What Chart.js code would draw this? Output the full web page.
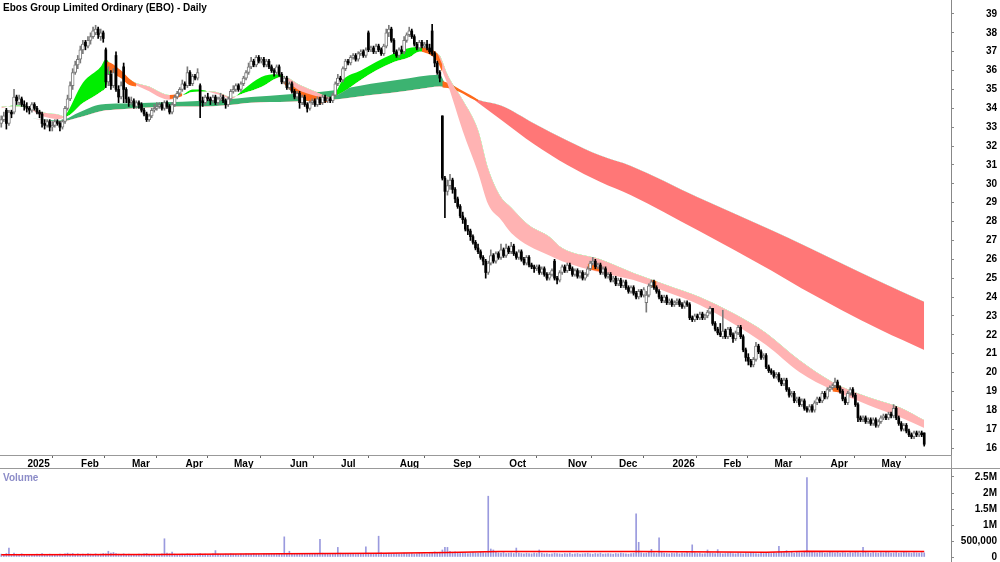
<!DOCTYPE html>
<html>
<head>
<meta charset="utf-8">
<script src="https://cdn.jsdelivr.net/npm/chart.js@4/dist/chart.umd.min.js"></script>
<style>
  html, body { margin: 0; padding: 0; background: #fff; }
  #wrap { position: relative; width: 1000px; height: 562px; overflow: hidden; }
  #priceBox { position: absolute; left: 0; top: 0; width: 1000px; height: 468px; }
  #volBox { position: absolute; left: 0; top: 468px; width: 1000px; height: 94px; }
  .lbl { position: absolute; font: bold 10px 'Liberation Sans', Arial, sans-serif; white-space: nowrap; }
  #title { left: 3px; top: 2px; color: #000; }
  #volTitle { left: 3px; top: 472px; color: #8c8cc8; }
</style>
</head>
<body>
<div id="wrap">
  <div id="priceBox"><canvas id="price"></canvas></div>
  <div id="volBox"><canvas id="vol"></canvas></div>
  <div id="title" class="lbl">Ebos Group Limited Ordinary (EBO) - Daily</div>
  <div id="volTitle" class="lbl">Volume</div>
</div>
<script>
// trading calendar
const firstDay = '2024-12-16';
const slotCount = 373;
const holidays = ['2024-12-25','2024-12-26','2025-01-01','2025-01-27','2025-04-18','2025-04-21','2025-04-25',
  '2025-06-09','2025-12-25','2025-12-26','2026-01-01','2026-01-26','2026-04-03','2026-04-06'];
const monthNames = ['Jan','Feb','Mar','Apr','May','Jun','Jul','Aug','Sep','Oct','Nov','Dec'];
const priceTicks = [16,17,18,19,20,21,22,23,24,25,26,27,28,29,30,31,32,33,34,35,36,37,38,39];
const volTicks = [0, 500000, 1000000, 1500000, 2000000, 2500000];

// daily bars
const opens = [
  33.2,33.4,33.9,33.2,33.8,33.8,34.6,34.3,34.5,34.2,
  34.1,34.0,33.9,34.2,34.0,33.8,33.7,33.2,33.1,33.3,
  33.0,33.1,33.3,33.2,33.0,33.3,34.0,34.5,35.2,35.9,
  36.3,36.6,37.1,37.5,37.3,37.6,37.8,38.0,38.2,37.8,
  38.0,37.1,35.4,35.8,35.2,36.8,35.0,34.6,36.2,35.0,
  34.5,34.3,34.4,34.1,34.3,34.2,33.9,33.7,33.4,33.6,
  33.9,34.0,34.1,34.2,34.0,34.3,34.1,33.8,34.2,34.6,
  34.8,35.0,35.3,35.2,35.9,35.3,35.7,35.6,35.2,34.4,
  34.3,34.6,34.5,34.4,34.6,34.3,34.5,34.6,34.4,34.2,
  34.5,34.9,35.0,35.2,35.0,35.3,35.6,35.9,36.2,36.5,
  36.3,36.7,36.5,36.6,36.3,36.5,36.2,36.0,35.9,36.2,
  35.8,35.4,35.6,35.1,35.3,34.9,34.6,34.8,34.3,34.6,
  34.2,34.0,34.3,34.4,34.2,34.5,34.3,34.6,34.4,34.5,
  34.4,34.7,35.3,35.6,35.5,36.1,36.5,36.4,36.7,36.8,
  36.6,36.9,37.0,36.8,38.0,37.1,37.2,37.0,37.3,37.1,
  36.9,37.3,38.0,38.2,37.6,37.0,36.8,37.1,37.0,37.6,
  37.9,38.1,37.8,37.4,37.2,37.5,37.3,37.4,37.2,38.1,
  36.9,36.4,35.9,33.6,30.3,29.6,29.9,30.2,29.7,29.2,
  28.8,28.3,28.1,27.6,27.5,27.2,26.9,26.6,26.4,26.1,
  25.9,25.3,25.8,26.2,25.9,26.3,26.1,26.5,26.2,26.6,
  26.4,26.7,26.3,26.1,26.4,26.0,25.8,26.1,25.7,25.6,
  25.5,25.6,25.3,25.5,25.2,25.0,25.2,25.9,25.0,24.9,
  25.3,25.6,25.4,25.7,25.5,25.2,25.4,25.1,25.3,25.0,
  25.2,25.5,25.8,25.9,25.6,25.7,25.3,25.5,25.1,25.2,
  24.9,25.0,24.7,24.9,24.6,24.8,24.5,24.3,24.5,24.2,
  24.0,24.3,24.1,23.7,24.1,24.6,24.8,24.5,24.3,24.0,
  23.8,24.0,23.7,23.8,23.6,23.7,23.8,23.6,23.5,23.7,
  23.6,22.9,22.8,23.0,22.9,23.1,22.9,23.0,23.2,23.4,
  22.6,22.3,22.1,21.9,22.2,21.9,22.3,22.0,21.8,22.1,
  22.4,21.9,21.2,20.8,20.6,20.4,20.7,21.4,21.1,20.8,
  20.9,20.3,20.1,20.0,19.8,19.9,19.6,19.4,19.6,19.1,
  18.8,18.9,18.5,18.6,18.3,18.5,18.1,18.0,18.2,18.0,
  18.4,18.6,18.5,18.9,18.7,19.1,19.2,19.3,19.5,19.2,
  19.0,18.6,18.4,18.9,19.1,18.8,18.3,17.6,17.5,17.6,
  17.4,17.5,17.3,17.5,17.2,17.4,17.6,17.7,17.6,17.8,
  17.7,18.1,17.6,17.3,17.0,17.2,16.9,16.7,16.6,16.8,
  16.7,16.8,16.8
];
const highs = [
  33.6,33.8,34.0,33.9,33.9,35.0,34.7,34.7,34.6,34.4,
  34.3,34.1,34.3,34.3,34.1,33.9,33.8,33.4,33.4,33.4,
  33.3,33.4,33.4,33.3,33.4,34.1,34.7,35.4,36.1,36.5,
  36.8,37.3,37.6,37.6,37.8,38.0,38.3,38.4,38.3,38.2,
  38.1,37.2,36.2,36.0,36.1,37.0,35.2,35.4,36.4,35.1,
  34.6,34.6,34.5,34.4,34.4,34.3,34.0,33.8,33.7,34.0,
  34.2,34.3,34.3,34.3,34.4,34.4,34.2,34.3,34.7,34.9,
  35.1,35.5,35.4,36.2,36.0,35.8,35.8,36.1,35.3,34.6,
  34.7,34.8,34.6,34.7,34.7,34.6,34.8,34.7,34.5,34.6,
  35.0,35.2,35.3,35.3,35.4,35.7,36.0,36.4,36.7,36.6,
  36.8,36.8,36.7,36.7,36.6,36.6,36.3,36.1,36.3,36.3,
  35.9,35.7,35.7,35.4,35.4,35.0,34.9,34.9,34.7,34.7,
  34.3,34.4,34.5,34.5,34.6,34.6,34.7,34.7,34.6,34.6,
  34.8,35.4,35.8,35.7,36.2,36.6,36.6,36.8,36.9,36.9,
  37.0,37.1,37.1,37.2,38.1,37.3,37.3,37.4,37.4,37.2,
  37.4,38.2,38.4,38.3,37.7,37.1,37.2,37.3,37.8,38.0,
  38.3,38.2,37.9,37.5,37.6,37.6,37.5,37.6,37.4,38.45,
  37.0,36.5,36.0,33.6,30.4,30.2,30.5,30.3,29.8,29.3,
  28.9,28.5,28.2,27.8,27.6,27.3,27.0,26.8,26.5,26.2,
  26.0,25.9,26.5,26.3,26.4,26.4,26.8,26.6,26.8,26.7,
  26.9,26.8,26.4,26.5,26.5,26.1,26.2,26.2,25.8,25.7,
  25.7,25.7,25.6,25.6,25.3,25.3,25.5,26.0,25.1,25.4,
  25.7,25.7,25.8,25.8,25.6,25.5,25.5,25.4,25.4,25.3,
  25.6,25.9,26.1,26.0,25.8,25.8,25.6,25.6,25.3,25.3,
  25.1,25.1,25.0,25.0,24.9,24.9,24.6,24.6,24.6,24.3,
  24.4,24.4,24.5,24.3,24.7,24.9,24.9,24.6,24.4,24.1,
  24.1,24.1,23.9,23.9,23.8,23.9,23.9,23.7,23.8,23.8,
  23.7,23.0,23.1,23.1,23.2,23.2,23.1,23.3,23.5,23.4,
  22.7,22.4,22.6,23.3,22.3,22.4,22.4,22.1,22.2,22.5,
  22.5,22.0,21.3,21.0,20.7,20.8,21.6,21.5,21.2,21.0,
  21.0,20.4,20.2,20.1,20.0,20.0,19.7,19.7,19.7,19.2,
  19.0,19.0,18.7,18.7,18.6,18.6,18.2,18.3,18.3,18.5,
  18.7,18.7,19.0,19.0,19.2,19.3,19.4,19.7,19.6,19.3,
  19.1,18.7,19.0,19.2,19.2,18.9,18.4,17.7,17.7,17.7,
  17.6,17.6,17.6,17.6,17.5,17.7,17.8,17.8,17.9,17.9,
  18.3,18.2,17.7,17.4,17.3,17.3,17.0,16.8,16.9,16.9,
  16.9,16.9,16.8
];
const lows = [
  33.0,33.3,32.9,33.1,33.5,33.7,34.2,34.2,34.1,33.9,
  33.8,33.7,33.8,33.9,33.7,33.5,33.0,32.9,33.0,32.8,
  32.8,33.0,33.1,32.8,32.9,33.2,33.9,34.4,35.0,35.8,
  36.1,36.4,36.9,37.1,37.2,37.4,37.7,37.9,37.7,37.6,
  37.5,35.1,35.2,35.0,35.1,34.9,34.3,34.5,34.3,34.3,
  34.1,34.2,34.0,34.0,34.0,33.8,33.6,33.3,33.3,33.5,
  33.8,33.9,34.0,33.9,33.9,34.0,33.7,33.7,34.1,34.5,
  34.7,34.9,35.0,35.1,35.2,35.2,35.5,35.5,33.5,34.1,
  34.2,34.4,34.2,34.3,34.2,34.2,34.4,34.3,34.0,34.1,
  34.4,34.8,34.9,34.9,34.9,35.2,35.5,35.8,36.1,36.2,
  36.2,36.4,36.4,36.2,36.2,36.1,35.9,35.7,35.8,35.7,
  35.3,35.3,35.0,35.0,34.8,34.5,34.5,34.0,34.2,34.1,
  33.8,33.9,34.2,34.1,34.1,34.2,34.2,34.3,34.3,34.3,
  34.3,34.6,35.2,35.4,35.4,36.0,36.3,36.3,36.6,36.5,
  36.5,36.8,36.7,36.7,37.0,37.0,36.9,36.9,37.0,36.8,
  36.8,37.2,37.8,37.5,36.9,36.7,36.7,36.9,36.9,37.5,
  37.8,37.7,37.3,37.1,37.1,37.2,37.2,37.1,36.9,36.8,
  36.2,35.8,35.4,30.2,28.2,29.4,29.7,29.5,29.0,28.7,
  28.2,27.9,27.5,27.3,27.0,26.8,26.5,26.3,26.0,25.7,
  25.0,25.2,25.7,25.8,25.8,26.0,26.0,26.1,26.1,26.3,
  26.3,26.2,26.0,26.0,25.9,25.7,25.7,25.6,25.5,25.3,
  25.4,25.2,25.2,25.1,24.9,24.9,25.1,24.9,24.7,24.8,
  25.2,25.3,25.3,25.4,25.1,25.1,25.0,25.0,24.9,24.9,
  25.1,25.4,25.7,25.5,25.5,25.2,25.2,25.0,25.0,24.8,
  24.8,24.6,24.6,24.5,24.5,24.4,24.2,24.2,24.1,23.9,
  23.9,24.0,24.0,23.2,24.0,24.5,24.4,24.2,23.9,23.7,
  23.7,23.6,23.6,23.5,23.5,23.6,23.5,23.4,23.4,23.5,
  22.8,22.7,22.7,22.8,22.8,22.8,22.8,22.9,23.1,22.5,
  22.2,22.0,21.9,21.8,21.8,21.8,21.9,21.6,21.7,22.0,
  21.8,21.1,20.6,20.4,20.3,20.3,20.6,21.0,20.7,20.7,
  20.2,20.0,19.9,19.7,19.7,19.5,19.3,19.3,19.0,18.7,
  18.7,18.4,18.4,18.2,18.2,18.0,17.9,17.9,17.9,17.9,
  18.3,18.4,18.4,18.6,18.6,19.0,19.1,19.2,19.1,18.9,
  18.5,18.3,18.3,18.8,18.7,18.2,17.4,17.4,17.4,17.3,
  17.3,17.2,17.2,17.1,17.1,17.3,17.5,17.5,17.5,17.6,
  17.6,17.5,17.2,16.9,16.9,16.8,16.6,16.5,16.5,16.6,
  16.6,16.6,16.1
];
const closes = [
  33.4,33.6,33.2,33.8,33.7,34.6,34.4,34.5,34.2,34.1,
  34.0,33.9,34.2,34.0,33.8,33.7,33.2,33.1,33.3,33.0,
  33.1,33.3,33.2,33.0,33.3,34.0,34.5,35.2,35.9,36.3,
  36.6,37.1,37.4,37.3,37.6,37.8,38.1,38.2,37.9,38.0,
  37.7,35.4,35.8,35.2,35.9,35.0,34.6,35.2,35.0,34.5,
  34.3,34.4,34.1,34.3,34.2,33.9,33.7,33.4,33.6,33.9,
  34.0,34.1,34.2,34.0,34.3,34.1,33.8,34.2,34.6,34.8,
  35.0,35.3,35.2,35.9,35.3,35.7,35.6,35.9,34.4,34.3,
  34.6,34.5,34.4,34.6,34.3,34.5,34.6,34.4,34.2,34.5,
  34.9,35.0,35.2,35.0,35.3,35.6,35.9,36.2,36.5,36.3,
  36.7,36.5,36.6,36.3,36.5,36.2,36.0,35.9,36.2,35.8,
  35.4,35.6,35.1,35.3,34.9,34.6,34.8,34.3,34.6,34.2,
  34.0,34.3,34.4,34.2,34.5,34.3,34.6,34.4,34.5,34.4,
  34.7,35.3,35.6,35.5,36.1,36.5,36.4,36.7,36.8,36.6,
  36.9,37.0,36.8,37.1,37.1,37.2,37.0,37.3,37.1,36.9,
  37.3,38.0,38.2,37.6,37.0,36.8,37.1,37.0,37.6,37.9,
  38.1,37.8,37.4,37.2,37.5,37.3,37.4,37.2,37.0,36.9,
  36.4,35.9,35.6,30.3,29.6,29.9,30.2,29.7,29.2,28.8,
  28.3,28.1,27.6,27.5,27.2,26.9,26.6,26.4,26.1,25.9,
  25.3,25.8,26.2,25.9,26.3,26.1,26.5,26.2,26.6,26.4,
  26.7,26.3,26.1,26.4,26.0,25.8,26.1,25.7,25.6,25.5,
  25.6,25.3,25.5,25.2,25.0,25.2,25.4,25.0,24.9,25.3,
  25.6,25.4,25.7,25.5,25.2,25.4,25.1,25.3,25.0,25.2,
  25.5,25.8,25.9,25.6,25.7,25.3,25.5,25.1,25.2,24.9,
  25.0,24.7,24.9,24.6,24.8,24.5,24.3,24.5,24.2,24.0,
  24.3,24.1,24.4,24.1,24.6,24.8,24.5,24.3,24.0,23.8,
  24.0,23.7,23.8,23.6,23.7,23.8,23.6,23.5,23.7,23.6,
  22.9,22.8,23.0,22.9,23.1,22.9,23.0,23.2,23.4,22.6,
  22.3,22.1,22.0,22.2,21.9,22.3,22.0,21.8,22.1,22.4,
  21.9,21.2,20.8,20.6,20.4,20.7,21.4,21.1,20.8,20.9,
  20.3,20.1,20.0,19.8,19.9,19.6,19.4,19.6,19.1,18.8,
  18.9,18.5,18.6,18.3,18.5,18.1,18.0,18.2,18.0,18.4,
  18.6,18.5,18.9,18.7,19.1,19.2,19.3,19.5,19.2,19.0,
  18.6,18.4,18.9,19.1,18.8,18.3,17.6,17.5,17.6,17.4,
  17.5,17.3,17.5,17.2,17.4,17.6,17.7,17.6,17.8,17.7,
  18.1,17.6,17.3,17.0,17.2,16.9,16.7,16.6,16.8,16.7,
  16.8,16.7,16.2
];
// volume in thousands
const volumes = [
  90,70,110,280,80,120,90,60,100,70,50,60,80,70,90,60,110,80,70,90,
  80,60,70,90,80,100,120,90,110,80,100,70,90,80,110,90,70,100,80,90,
  110,100,180,120,140,110,90,80,100,70,90,80,60,70,90,80,100,110,80,70,
  90,80,70,100,570,120,100,150,90,80,70,90,80,100,90,80,70,90,110,80,
  90,70,80,100,200,90,80,70,90,80,100,90,80,70,90,80,100,90,80,110,
  90,80,70,100,90,80,110,90,80,100,90,630,120,180,100,90,80,110,90,100,
  80,90,100,110,90,550,120,100,90,80,100,110,300,120,100,90,110,100,90,80,
  100,90,110,320,120,100,90,110,650,130,110,100,120,90,100,110,90,100,120,110,
  100,110,90,100,120,110,100,90,110,140,160,130,150,220,300,300,180,150,160,130,
  140,120,130,110,120,140,130,120,150,140,130,1900,250,220,160,130,120,140,110,120,
  130,110,280,120,110,100,120,110,100,120,110,220,120,100,110,90,100,120,110,100,
  90,110,100,120,90,100,110,90,100,110,120,100,90,110,100,120,90,100,110,100,
  90,110,100,120,110,100,90,110,120,1350,460,130,110,120,150,240,130,110,600,140,
  120,110,100,120,110,130,100,120,110,140,120,380,130,110,120,100,110,220,130,120,
  110,230,120,100,110,120,130,110,100,120,110,100,120,110,130,120,110,100,120,110,
  130,120,110,140,120,330,150,140,200,130,150,120,160,140,130,150,2480,170,150,140,
  130,150,140,120,130,180,140,130,150,120,140,130,120,140,130,150,140,120,300,150,
  130,120,140,130,120,140,130,150,140,120,130,140,120,130,150,140,130,120,140,130,
  120,140,130
];
const volMaIdx = [0, 60, 110, 150, 175, 195, 250, 300, 316, 362];
const volMa = [70, 80, 100, 120, 140, 170, 170, 150, 180, 170];

// moving average bands (sampled)
const shortIdx = [0,5,9,12,17,23,25,32,39,41,43,48,52,58,62,66,71,75,80,82,86,90,95,102,108,111,117,125,129,134,
  141,147,154,160,164,168,172,173,175,177,181,187,191,196,200,207,215,220,235,248,261,274,287,300,313,326,340,353,362];
const shortFast = [34.0,34.15,34.12,33.9,33.55,33.43,33.6,35.35,36.2,36.6,36.3,35.7,35.3,34.9,34.6,34.45,34.7,35.0,34.95,34.85,
  34.7,34.5,35.0,35.66,35.8,35.66,34.7,34.3,34.4,35.5,36.0,36.45,36.9,37.2,37.25,37.05,36.6,36.0,35.3,34.5,
  32.8,30.6,28.9,28.1,27.4,26.7,26.2,25.9,25.3,24.9,24.27,23.58,22.6,21.46,20.03,19.07,18.28,17.6,17.06];
const shortSlow = [34.1,34.1,34.08,33.95,33.76,33.65,33.55,34.28,34.87,35.1,35.9,35.7,35.4,35.15,34.88,34.7,34.7,34.87,34.88,34.9,
  34.8,34.6,34.8,35.13,35.6,35.66,35.25,34.8,34.6,34.87,35.5,36.0,36.45,36.7,37.0,37.0,36.8,36.5,35.8,35.3,
  34.44,32.85,30.8,29.3,28.75,27.8,27.2,26.6,26.0,25.27,24.64,24.0,23.15,22.1,20.66,19.5,18.7,18.12,17.48];
const longIdx = [0,12,23,30,39,47,58,71,79,87,98,113,130,145,160,168,172,174,176,180,184,187,196,209,222,235,247,273,302,314,345,362];
const longFast = [33.4,33.45,33.35,33.75,34.2,34.25,34.3,34.35,34.4,34.45,34.6,34.75,34.95,35.3,35.6,35.75,35.78,35.35,35.2,34.9,
  34.6,34.3,33.4,32.1,31.0,30.1,29.4,27.55,25.4,24.45,22.25,21.2];
const longSlow = [33.4,33.45,33.3,33.5,33.85,33.95,34.05,34.1,34.1,34.15,34.3,34.35,34.45,34.7,34.95,35.1,35.15,35.1,35.06,34.9,
  34.65,34.45,34.15,33.2,32.3,31.5,30.95,29.3,27.55,26.8,24.8,23.75];
const orangeShortIdx = [41,43,47,50,53,54, 66,69,71,72, 110,113,117,121,125,128,129, 165,168,171,173,174, 230,233,235,236, 255,257,258, 326,329];
const orangeShortTop = [36.5,36.4,36.0,35.6,35.3,null, 34.7,34.75,34.8,null, 35.6,35.3,34.95,34.75,34.6,34.55,null,
  37.25,37.15,36.9,36.3,null, 25.75,25.7,25.6,null, 24.9,24.85,null, 19.35,19.3];
const orangeShortBot = [36.2,35.9,35.6,35.25,35.15,null, 34.5,34.55,34.65,null, 35.45,35.0,34.6,34.35,34.25,34.35,null,
  37.0,36.85,36.5,35.9,null, 25.5,25.4,25.35,null, 24.55,24.5,null, 19.0,18.95];
const orangeLongIdx = [173,176,180,184,187];
const orangeLongTop = [35.45,35.3,35.0,34.7,34.45];
const orangeLongBot = [35.1,35.05,34.85,34.55,34.38];

// calendar labels
const dates = [];
for (let d = new Date(firstDay + 'T00:00:00Z'); dates.length < slotCount; d.setUTCDate(d.getUTCDate() + 1)) {
  const wd = d.getUTCDay();
  const iso = d.toISOString().slice(0, 10);
  if (wd !== 0 && wd !== 6 && !holidays.includes(iso)) dates.push(iso);
}
const monthTicks = [];
for (let j = 1; j < closes.length; j++) {
  if (dates[j].slice(0, 7) !== dates[j - 1].slice(0, 7)) {
    const m = +dates[j].slice(5, 7) - 1;
    monthTicks.push({ idx: j, label: m === 0 ? dates[j].slice(0, 4) : monthNames[m] });
  }
}

const pts = (idx, vals) => idx.map((j, k) => ({ x: j, y: vals[k] }));

const wickUp = [], wickDown = [], bodyUp = [], bodyDown = [];
closes.forEach((c, j) => {
  const up = c >= opens[j];
  (up ? wickUp : wickDown).push({ x: j, y: [lows[j], highs[j]] });
  (up ? bodyUp : bodyDown).push({ x: j, y: [opens[j], c] });
});

Chart.defaults.font.family = "'Liberation Sans', Arial, sans-serif";
Chart.defaults.font.size = 10;
Chart.defaults.font.weight = 'bold';
Chart.defaults.color = '#000';

const frameLines = {
  id: 'frameLines',
  afterDraw(chart, args, opts) {
    const { ctx, chartArea } = chart;
    ctx.save();
    ctx.strokeStyle = '#999';
    ctx.lineWidth = 1;
    if (opts.topLine) {
      ctx.beginPath(); ctx.moveTo(0, 0.5); ctx.lineTo(chart.width, 0.5); ctx.stroke();
    }
    if (opts.axisDown) {
      const x = Math.round(chartArea.right) + 0.5;
      ctx.beginPath(); ctx.moveTo(x, chartArea.bottom); ctx.lineTo(x, chart.height); ctx.stroke();
    }
    ctx.restore();
  }
};

// no extra room around the axes, the panels are edge to edge
const fitRight = s => { s.width = 46; s.paddingTop = 0; s.paddingBottom = 0; };

const band = (data, order, fill) => ({
  type: 'line', data, order, fill,
  borderWidth: 0, borderColor: 'rgba(0,0,0,0)', pointRadius: 0,
  cubicInterpolationMode: 'monotone', spanGaps: false
});

new Chart(document.getElementById('price'), {
  type: 'bar',
  data: {
    datasets: [
      band(pts(longIdx, longFast), 50, { target: 1, above: '#3cb371', below: '#ff7777' }),
      band(pts(longIdx, longSlow), 51, false),
      band(pts(shortIdx, shortFast), 40, { target: 3, above: '#00ee00', below: '#ffb3b3' }),
      band(pts(shortIdx, shortSlow), 41, false),
      band(pts(orangeLongIdx, orangeLongTop), 45, { target: 5, above: '#ff6a1a', below: '#ff6a1a' }),
      band(pts(orangeLongIdx, orangeLongBot), 46, false),
      band(pts(orangeShortIdx, orangeShortTop), 30, { target: 7, above: '#ff6a1a', below: '#ff6a1a' }),
      band(pts(orangeShortIdx, orangeShortBot), 31, false),
      { data: wickUp, backgroundColor: '#7a7a7a', barThickness: 1, grouped: false, order: 3 },
      { data: wickDown, backgroundColor: '#000', barThickness: 1, grouped: false, order: 2 },
      { data: bodyUp, backgroundColor: '#fff', borderColor: '#7a7a7a', borderWidth: 1, borderSkipped: false,
        barThickness: 3, minBarLength: 1, grouped: false, order: 1 },
      { data: bodyDown, backgroundColor: '#000', barThickness: 2, minBarLength: 1, grouped: false, order: 0 }
    ]
  },
  options: {
    responsive: true,
    maintainAspectRatio: false,
    animation: false,
    events: [],
    layout: { padding: { left: 0, right: 3, top: 0, bottom: 0 } },
    scales: {
      x: {
        type: 'linear', min: -0.5, max: slotCount - 0.5, offset: false,
        afterBuildTicks: s => { s.ticks = monthTicks.map(t => ({ value: t.idx - 0.5 })); },
        afterFit: s => { s.height = 13; s.paddingLeft = 0; s.paddingRight = 0; },
        border: { display: true, color: '#999' },
        grid: { drawOnChartArea: false, drawTicks: true, tickLength: 3, color: '#666' },
        ticks: {
          autoSkip: false, maxRotation: 0, align: 'start', padding: 0, labelOffset: 2,
          callback: v => { const t = monthTicks.find(m => m.idx - 0.5 === v); return t ? t.label : ''; }
        }
      },
      y: {
        position: 'right', min: 15.63, max: 39.74,
        afterBuildTicks: s => { s.ticks = priceTicks.map(v => ({ value: v })); },
        afterFit: fitRight,
        border: { display: true, color: '#888' },
        grid: { drawOnChartArea: false, tickLength: 3, color: '#888' },
        ticks: { crossAlign: 'far', padding: 2 }
      }
    },
    plugins: {
      legend: { display: false },
      tooltip: { enabled: false },
      frameLines: { axisDown: true }
    }
  },
  plugins: [frameLines]
});

new Chart(document.getElementById('vol'), {
  type: 'bar',
  data: {
    datasets: [
      { type: 'line', data: pts(volMaIdx, volMa.map(v => v * 1000)), borderColor: '#ff0000', borderWidth: 1.5,
        pointRadius: 0, tension: 0, order: 0 },
      { data: volumes.map((v, j) => ({ x: j, y: v * 1000 })), backgroundColor: '#9a9ade', barThickness: 1,
        grouped: false, order: 1 }
    ]
  },
  options: {
    responsive: true,
    maintainAspectRatio: false,
    animation: false,
    events: [],
    layout: { padding: { left: 0, right: 3, top: 0, bottom: 0 } },
    scales: {
      x: { type: 'linear', display: false, min: -0.5, max: slotCount - 0.5, offset: false },
      y: {
        position: 'right', min: -156250, max: 2781250,
        afterBuildTicks: s => { s.ticks = volTicks.map(v => ({ value: v })); },
        afterFit: fitRight,
        border: { display: true, color: '#888' },
        grid: { drawOnChartArea: false, tickLength: 3, color: '#888' },
        ticks: {
          crossAlign: 'far', padding: 2,
          callback: v => v === 0 ? '0' : v === 500000 ? '500,000' : (v / 1000000) + 'M'
        }
      }
    },
    plugins: {
      legend: { display: false },
      tooltip: { enabled: false },
      frameLines: { topLine: true }
    }
  },
  plugins: [frameLines]
});
</script>
</body>
</html>
